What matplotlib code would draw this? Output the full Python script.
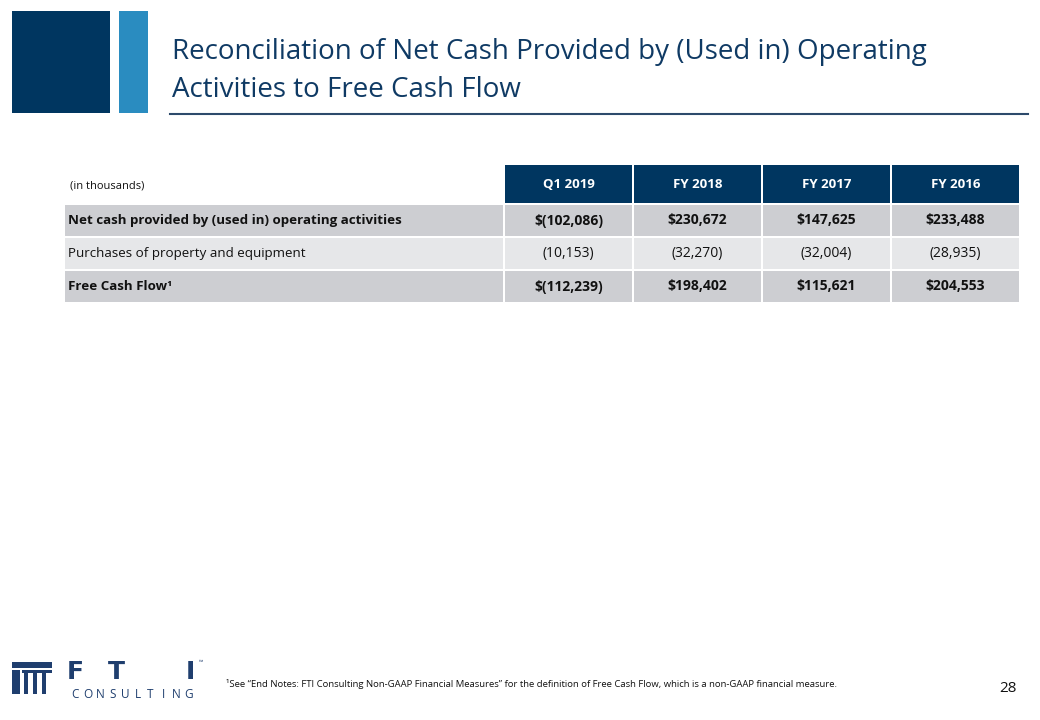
import matplotlib.pyplot as plt
from matplotlib.patches import Rectangle

plt.rcParams['font.family'] = ['Open Sans', 'DejaVu Sans']

# Table data (in thousands)
columns = ["Q1 2019", "FY 2018", "FY 2017", "FY 2016"]
row_labels = ["Net cash provided by (used in) operating activities",
              "Purchases of property and equipment",
              "Free Cash Flow\u00b9"]
net_cash = [-102086, 230672, 147625, 233488]
purchases = [-10153, -32270, -32004, -28935]
free_cash = [-112239, 198402, 115621, 204553]

title_lines = ["Reconciliation of Net Cash Provided by (Used in) Operating",
               "Activities to Free Cash Flow"]
footnote = ("\u00b9See \u201cEnd Notes: FTI Consulting Non-GAAP Financial Measures\u201d "
            "for the definition of Free Cash Flow, which is a non-GAAP financial measure.")
page_number = "28"

NAVY = "#003660"
BLUE = "#2a8cc0"
TITLE_C = "#0f3a64"
GRAY_DARK = "#cdced2"
GRAY_LIGHT = "#e6e7e9"
TEXT_C = "#111111"


def fmt(v, dollar):
    s = "{:,}".format(abs(v))
    if v < 0:
        s = "(" + s + ")"
    return ("$" + s) if dollar else s


fig = plt.figure(figsize=(10.4, 7.2), dpi=100)
ax = fig.add_axes([0, 0, 1, 1])
ax.set_xlim(0, 1040)
ax.set_ylim(720, 0)
ax.axis('off')

# header blocks and title
ax.add_patch(Rectangle((12, 11), 98, 102, color=NAVY, lw=0))
ax.add_patch(Rectangle((119, 11), 29, 102, color=BLUE, lw=0))
ax.text(172, 52, title_lines[0], fontsize=20, color=TITLE_C, va='center', ha='left')
ax.text(172, 90, title_lines[1], fontsize=20, color=TITLE_C, va='center', ha='left')
ax.plot([170, 1028], [114, 114], color="#2d4a6b", lw=1.5)

# table layout
label_x0, label_x1 = 65, 503
col_x0 = 505
col_w = 129
head_y, head_h = 165, 38
row_y = [205, 238, 271]
row_h = 31

ax.text(70, 186, "(in thousands)", fontsize=8, color=TEXT_C, va='center')
for i, c in enumerate(columns):
    x = col_x0 + i * col_w
    ax.add_patch(Rectangle((x, head_y), col_w - 2, head_h, color=NAVY, lw=0))
    ax.text(x + (col_w - 2) / 2, head_y + head_h / 2, c, fontsize=9.5, color='white',
            fontweight='bold', ha='center', va='center')

rows = [(net_cash, True, True, GRAY_DARK),
        (purchases, False, False, GRAY_LIGHT),
        (free_cash, True, True, GRAY_DARK)]
for r, (vals, dollar, bold, bg) in enumerate(rows):
    y = row_y[r]
    w = 'bold' if bold else 'normal'
    ax.add_patch(Rectangle((label_x0, y), label_x1 - label_x0, row_h, color=bg, lw=0))
    ax.text(68, y + row_h / 2, row_labels[r], fontsize=9.6, color=TEXT_C,
            fontweight=w, ha='left', va='center')
    for i, v in enumerate(vals):
        x = col_x0 + i * col_w
        ax.add_patch(Rectangle((x, y), col_w - 2, row_h, color=bg, lw=0))
        ax.text(x + (col_w - 2) / 2, y + row_h / 2, fmt(v, dollar), fontsize=10,
                color=TEXT_C, fontweight=w, ha='center', va='center')

# logo
LOGO = "#1f3e6e"
ax.add_patch(Rectangle((12, 662), 40, 6, color=LOGO, lw=0))
ax.add_patch(Rectangle((12, 670), 8, 24, color=LOGO, lw=0))
ax.add_patch(Rectangle((22, 670), 30, 3, color=LOGO, lw=0))
for bx in [24, 33, 42]:
    ax.add_patch(Rectangle((bx, 673), 4, 21, color=LOGO, lw=0))
for lx, ch in zip([75, 116, 190], "FTI"):
    ax.text(lx, 672, ch, fontsize=18, color=LOGO, fontweight='bold',
            ha='center', va='center', family=['DejaVu Sans'])
ax.text(201, 663, "\u2122", fontsize=4, color=LOGO, ha='center', va='center')
for k, ch in enumerate("CONSULTING"):
    ax.text(75 + k * 12.6, 694, ch, fontsize=8.5, color=LOGO,
            ha='center', va='center')

ax.text(226, 684, footnote, fontsize=6.8, color=TEXT_C, va='center', ha='left')
ax.text(1017, 688, page_number, fontsize=11, color=TEXT_C, va='center', ha='right')

fig.savefig("out.png", dpi=100)
